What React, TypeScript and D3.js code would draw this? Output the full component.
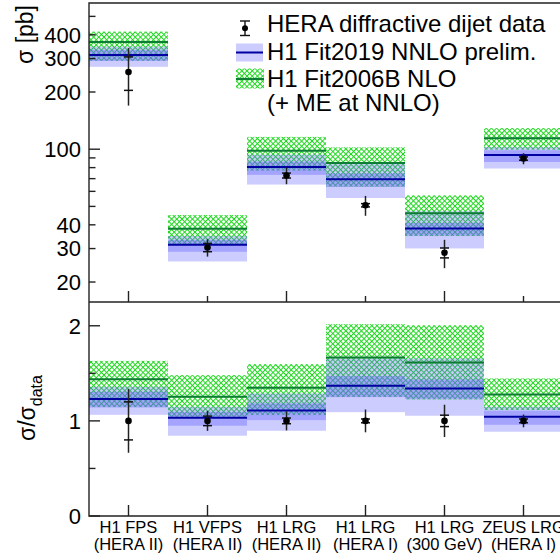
import { useEffect, useRef } from "react";
import * as d3 from "d3";

// measurements (one bin each)
const categories = ["H1 FPS", "H1 VFPS", "H1 LRG", "H1 LRG", "H1 LRG", "ZEUS LRG"];
const periods = ["(HERA II)", "(HERA II)", "(HERA II)", "(HERA I)", "(300 GeV)", "(HERA I)"];
const sigmaData = [255, 30.4, 72.7, 50.7, 28.5, 89.3]; // pb
const statErr = [0.2, 0.05, 0.03, 0.02, 0.06, 0.02]; // relative
const totErr = [0.335, 0.105, 0.1, 0.12, 0.17, 0.067]; // relative

// predictions, as ratio to data
const fit2019 = [1.229, 1.033, 1.11, 1.369, 1.341, 1.043];
const fit2019InnerLo = [1.142, 0.949, 1.008, 1.25, 1.232, 0.959];
const fit2019InnerHi = [1.306, 1.096, 1.184, 1.471, 1.436, 1.106];
const fit2019OuterLo = [1.064, 0.844, 0.896, 1.092, 1.054, 0.886];
const fit2019OuterHi = [1.358, 1.148, 1.289, 1.656, 1.656, 1.148];
const fit2006 = [1.439, 1.253, 1.348, 1.667, 1.614, 1.278];
const fit2006Lo = [1.145, 1.043, 1.061, 1.253, 1.225, 1.113];
const fit2006Hi = [1.631, 1.481, 1.597, 2.017, 2.006, 1.446];

// axis ticks
const topLabels = [20, 30, 40, 100, 200, 300, 400];
const topMinor = [20, 30, 40, 50, 60, 70, 80, 90, 200, 300, 400, 500];
const topMajor = [100];
const botLabels = [0, 1, 2];
const botMinor = [0.5, 1.5];

const legendLabels = [
  "HERA diffractive dijet data",
  "H1 Fit2019 NNLO prelim.",
  "H1 Fit2006B NLO",
  "(+ ME at NNLO)",
];

const App = () => {
  const ref = useRef<SVGSVGElement>(null);

  useEffect(() => {
    const width = 560;
    const height = 560;
    const left = 89;
    const right = 563;
    const topY = 3;
    const midY = 302;
    const botY = 516;
    const font = "'Liberation Sans', Arial, Helvetica, sans-serif";
    const axisCol = "#222";
    const green = "#1fd61f";
    const greenLine = "#0e7d34";
    const blueLine = "#0000a0";
    const blueFill = "rgb(100,100,255)";

    const svg = d3.select(ref.current).attr("width", width).attr("height", height);
    svg.selectAll("*").remove();

    const x = d3.scaleLinear().domain([0.5, 6.5]).range([left, right]);
    const yTop = d3.scaleLog().domain([15.7, 588]).range([midY, topY]);
    const yBot = d3.scaleLinear().domain([0, 2.25]).range([botY, midY]);

    // crossed hatch for the Fit2006B band
    const s = 5.2 / Math.SQRT2;
    const pat = svg
      .append("defs")
      .append("pattern")
      .attr("id", "xhatch")
      .attr("patternUnits", "userSpaceOnUse")
      .attr("width", s)
      .attr("height", s)
      .attr("patternTransform", "rotate(45)");
    pat.append("rect").attr("width", s).attr("height", 1).attr("fill", green);
    pat.append("rect").attr("width", 1).attr("height", s).attr("fill", green);

    const bins = d3.range(categories.length);
    const x0 = (i: number) => x(i + 0.5);
    const x1 = (i: number) => x(i + 1.5);

    const drawPanel = (y: (v: number) => number, val: (i: number, r: number) => number) => {
      const g = svg.append("g");
      const box = (lo: number[], hi: number[]) =>
        g
          .selectAll(null)
          .data(bins)
          .enter()
          .append("rect")
          .attr("x", (i) => x0(i))
          .attr("width", (i) => x1(i) - x0(i))
          .attr("y", (i) => y(val(i, hi[i])))
          .attr("height", (i) => y(val(i, lo[i])) - y(val(i, hi[i])));

      box(fit2006Lo, fit2006Hi).attr("fill", "url(#xhatch)");
      box(fit2019OuterLo, fit2019OuterHi).attr("fill", blueFill).attr("fill-opacity", 0.33);
      box(fit2019InnerLo, fit2019InnerHi).attr("fill", blueFill).attr("fill-opacity", 0.38);

      const line = (c: number[], col: string) =>
        g
          .selectAll(null)
          .data(bins)
          .enter()
          .append("line")
          .attr("x1", (i) => x0(i))
          .attr("x2", (i) => x1(i))
          .attr("y1", (i) => y(val(i, c[i])))
          .attr("y2", (i) => y(val(i, c[i])))
          .attr("stroke", col)
          .attr("stroke-width", 2);
      line(fit2006, greenLine);
      line(fit2019, blueLine);

      // data points: total error line, stat error caps
      const pts = g.selectAll(null).data(bins).enter().append("g");
      pts
        .append("line")
        .attr("x1", (i) => x(i + 1))
        .attr("x2", (i) => x(i + 1))
        .attr("y1", (i) => y(val(i, 1 + totErr[i])))
        .attr("y2", (i) => y(val(i, 1 - totErr[i])))
        .attr("stroke", "#222")
        .attr("stroke-width", 1.5);
      [1, -1].forEach((sg) =>
        pts
          .append("line")
          .attr("x1", (i) => x(i + 1) - 4.5)
          .attr("x2", (i) => x(i + 1) + 4.5)
          .attr("y1", (i) => y(val(i, 1 + sg * statErr[i])))
          .attr("y2", (i) => y(val(i, 1 + sg * statErr[i])))
          .attr("stroke", "#111")
          .attr("stroke-width", 1.5)
      );
      pts
        .append("circle")
        .attr("cx", (i) => x(i + 1))
        .attr("cy", (i) => y(val(i, 1)))
        .attr("r", 3.3)
        .attr("fill", "#000");
    };

    drawPanel(yTop, (i, r) => sigmaData[i] * r);
    drawPanel(yBot, (i, r) => r);

    // frame
    const ax = svg.append("g").attr("stroke", axisCol).attr("stroke-width", 1.4).attr("fill", "none");
    ax.append("path").attr("d", `M${width},${topY}H${left}V${botY}H${width}`);
    ax.append("line").attr("x1", left).attr("x2", width).attr("y1", midY).attr("y2", midY);

    // y ticks, upper panel
    ax.selectAll(null)
      .data(topMinor)
      .enter()
      .append("line")
      .attr("x1", left)
      .attr("x2", left + 6.5)
      .attr("y1", (d) => yTop(d))
      .attr("y2", (d) => yTop(d));
    ax.selectAll(null)
      .data(topMajor)
      .enter()
      .append("line")
      .attr("x1", left)
      .attr("x2", left + 11)
      .attr("y1", (d) => yTop(d))
      .attr("y2", (d) => yTop(d));
    // y ticks, lower panel
    ax.selectAll(null)
      .data(botLabels)
      .enter()
      .append("line")
      .attr("x1", left)
      .attr("x2", left + 11)
      .attr("y1", (d) => yBot(d))
      .attr("y2", (d) => yBot(d));
    ax.selectAll(null)
      .data(botMinor)
      .enter()
      .append("line")
      .attr("x1", left)
      .attr("x2", left + 6.5)
      .attr("y1", (d) => yBot(d))
      .attr("y2", (d) => yBot(d));
    // x ticks
    ax.selectAll(null)
      .data(bins)
      .enter()
      .append("line")
      .attr("x1", (i) => x(i + 1))
      .attr("x2", (i) => x(i + 1))
      .attr("y1", midY)
      .attr("y2", (i) => midY - (i % 2 === 0 ? 11 : 6));
    ax.selectAll(null)
      .data(bins)
      .enter()
      .append("line")
      .attr("x1", (i) => x(i + 1))
      .attr("x2", (i) => x(i + 1))
      .attr("y1", botY)
      .attr("y2", botY - 11);

    const txt = svg.append("g").attr("font-family", font).attr("fill", "#000");
    txt
      .selectAll(null)
      .data(topLabels)
      .enter()
      .append("text")
      .attr("x", 81)
      .attr("y", (d) => yTop(d))
      .attr("dy", "0.36em")
      .attr("text-anchor", "end")
      .attr("font-size", 22)
      .text((d) => d);
    txt
      .selectAll(null)
      .data(botLabels)
      .enter()
      .append("text")
      .attr("x", 81)
      .attr("y", (d) => yBot(d))
      .attr("dy", "0.36em")
      .attr("text-anchor", "end")
      .attr("font-size", 22)
      .text((d) => d);

    txt
      .selectAll(null)
      .data(bins)
      .enter()
      .append("text")
      .attr("x", (i) => x(i + 1))
      .attr("y", 533)
      .attr("text-anchor", "middle")
      .attr("font-size", 16.5)
      .text((i) => categories[i]);
    txt
      .selectAll(null)
      .data(bins)
      .enter()
      .append("text")
      .attr("x", (i) => x(i + 1))
      .attr("y", 550)
      .attr("text-anchor", "middle")
      .attr("font-size", 16.5)
      .text((i) => periods[i]);

    // axis titles
    txt
      .append("text")
      .attr("transform", "translate(33,5) rotate(-90)")
      .attr("text-anchor", "end")
      .attr("font-size", 23)
      .text("σ [pb]");
    const yt = txt
      .append("text")
      .attr("transform", "translate(35,441) rotate(-90)")
      .attr("text-anchor", "start")
      .attr("font-size", 23);
    yt.append("tspan").text("σ/σ");
    yt.append("tspan").attr("dy", 7).attr("font-size", 16).text("data");

    // legend
    const lg = svg.append("g");
    lg.append("line")
      .attr("x1", 245)
      .attr("x2", 245)
      .attr("y1", 21)
      .attr("y2", 35.5)
      .attr("stroke", "#111")
      .attr("stroke-width", 1.4);
    [21, 35.5].forEach((yy) =>
      lg.append("line")
        .attr("x1", 240)
        .attr("x2", 250)
        .attr("y1", yy)
        .attr("y2", yy)
        .attr("stroke", "#111")
        .attr("stroke-width", 1.4)
    );
    lg.append("circle").attr("cx", 245).attr("cy", 28.3).attr("r", 3).attr("fill", "#000");

    lg.append("rect").attr("x", 236).attr("y", 43.5).attr("width", 27).attr("height", 18).attr("fill", blueFill).attr("fill-opacity", 0.33);
    lg.append("line").attr("x1", 236).attr("x2", 263).attr("y1", 52.5).attr("y2", 52.5).attr("stroke", blueLine).attr("stroke-width", 2);

    lg.append("rect").attr("x", 236).attr("y", 68.5).attr("width", 28).attr("height", 20).attr("fill", "url(#xhatch)");
    lg.append("line").attr("x1", 236).attr("x2", 264).attr("y1", 79).attr("y2", 79).attr("stroke", greenLine).attr("stroke-width", 2);

    const baselines = [31.7, 60, 86.7, 111];
    lg.selectAll(null)
      .data(legendLabels)
      .enter()
      .append("text")
      .attr("x", 267)
      .attr("y", (d, i) => baselines[i])
      .attr("font-family", font)
      .attr("font-size", 24)
      .text((d) => d);
  }, []);

  return (
    <div style={{ position: "absolute", left: 0, top: 0, width: 560, height: 560, background: "#fff" }}>
      <svg ref={ref} style={{ display: "block" }}></svg>
    </div>
  );
};

export default App;
